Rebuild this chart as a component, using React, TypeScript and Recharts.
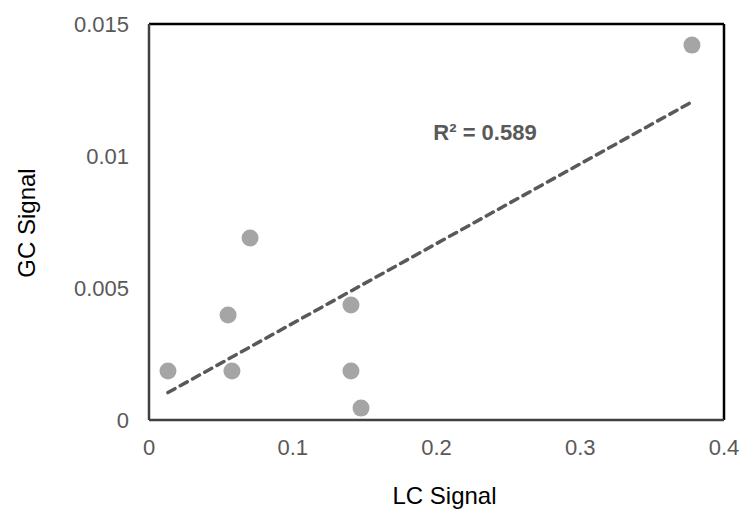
import {
  ScatterChart,
  Scatter,
  XAxis,
  YAxis,
  ReferenceLine,
} from "recharts";

// LC vs GC signal
const lcSignal = [0.0132, 0.055, 0.0577, 0.0703, 0.1405, 0.1405, 0.1475, 0.3777];
const gcSignal = [0.00186, 0.00398, 0.00186, 0.00689, 0.00436, 0.00186, 0.00045, 0.0142];

// linear trendline end points
const trendX = [0.0132, 0.3777];
const trendY = [0.00104, 0.01205];
const rSquared = "0.589";

const xTicks = [0, 0.1, 0.2, 0.3, 0.4];
const yTicks = [0, 0.005, 0.01, 0.015];

const points = lcSignal.map((x, i) => ({ x, y: gcSignal[i] }));

const FONT = "'Liberation Sans', Arial, sans-serif";
const TICK = "#595959";

function XTick({ x, y, payload }: any) {
  return (
    <text x={x} y={y + 27} textAnchor="middle" fill={TICK} fontSize={22} fontFamily={FONT}>
      {payload.value}
    </text>
  );
}

function YTick({ x, y, payload }: any) {
  return (
    <text x={x - 12} y={y + 8} textAnchor="end" fill={TICK} fontSize={22} fontFamily={FONT}>
      {payload.value}
    </text>
  );
}

export default function App() {
  return (
    <div style={{ position: "absolute", left: 0, top: 0, background: "#fff" }}>
      <ScatterChart
        width={744}
        height={512}
        margin={{ top: 24, right: 20, bottom: 0, left: 0 }}
      >
        <XAxis
          type="number"
          dataKey="x"
          domain={[0, 0.4]}
          ticks={xTicks}
          tick={<XTick />}
          tickLine={false}
          axisLine={{ stroke: "#404040", strokeWidth: 2.5 }}
          height={92}
          label={{
            content: ({ viewBox }: any) => (
              <text
                x={viewBox.x + viewBox.width / 2 + 8}
                y={viewBox.y + 84}
                textAnchor="middle"
                fill="#000"
                fontSize={24}
                fontFamily={FONT}
              >
                LC Signal
              </text>
            ),
          }}
        />
        <YAxis
          type="number"
          dataKey="y"
          domain={[0, 0.015]}
          ticks={yTicks}
          tick={<YTick />}
          tickLine={false}
          axisLine={{ stroke: "#404040", strokeWidth: 2.5 }}
          width={149}
          label={{
            content: ({ viewBox }: any) => {
              const cx = 26;
              const cy = viewBox.y + viewBox.height / 2 + 1;
              return (
                <text
                  x={cx}
                  y={cy}
                  transform={`rotate(-90 ${cx} ${cy})`}
                  textAnchor="middle"
                  dominantBaseline="central"
                  fill="#000"
                  fontSize={24}
                  fontFamily={FONT}
                >
                  GC Signal
                </text>
              );
            },
          }}
        />
        <ReferenceLine y={0.015} stroke="#000" strokeWidth={2.5} />
        <ReferenceLine x={0.4} stroke="#000" strokeWidth={2.5} />
        <Scatter
          data={points}
          fill="#a5a5a5"
          isAnimationActive={false}
          shape={(p: any) => <circle cx={p.cx} cy={p.cy} r={8.5} fill="#a5a5a5" />}
        />
        <ReferenceLine
          segment={[
            { x: trendX[0], y: trendY[0] },
            { x: trendX[1], y: trendY[1] },
          ]}
          stroke="#595959"
          strokeWidth={3.5}
          strokeDasharray="8 6"
          strokeLinecap="round"
          label={{
            content: () => (
              <text
                x={485}
                y={140}
                textAnchor="middle"
                fill="#595959"
                fontSize={22}
                fontWeight="bold"
                fontFamily={FONT}
              >
                {`R² = ${rSquared}`}
              </text>
            ),
          }}
        />
      </ScatterChart>
    </div>
  );
}
